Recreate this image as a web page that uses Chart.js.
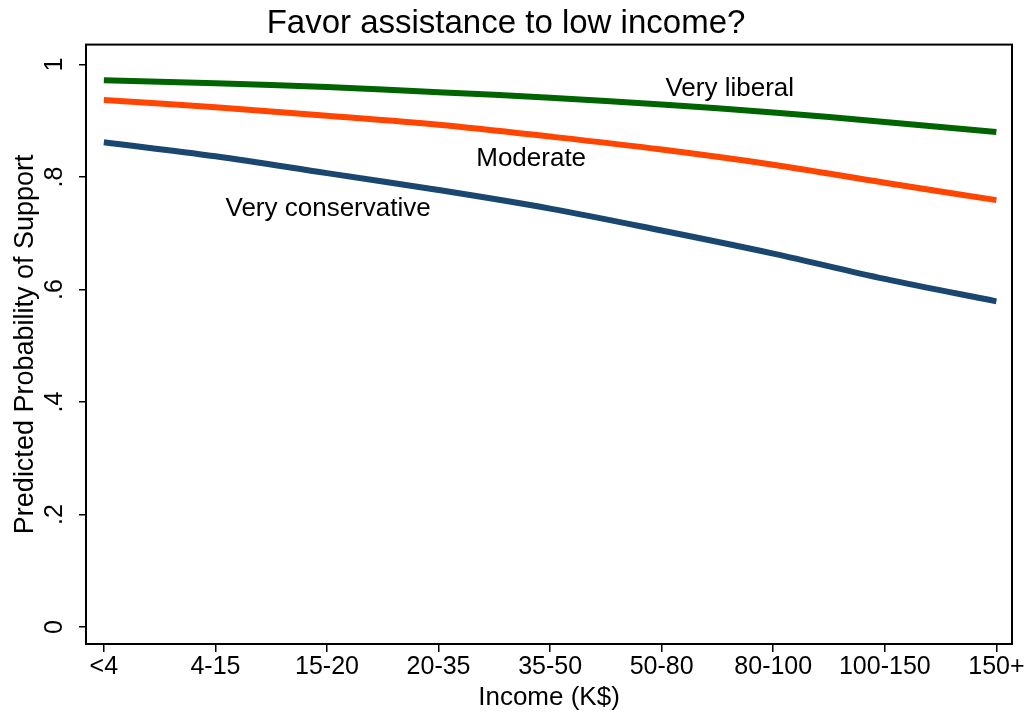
<!DOCTYPE html>
<html>
<head>
<meta charset="utf-8">
<script src="https://cdn.jsdelivr.net/npm/chart.js@4"></script>
<style>
  html, body { margin: 0; padding: 0; background: #fff; }
  #wrap { width: 1029px; height: 714px; }
</style>
</head>
<body>
<div id="wrap"><canvas id="chart"></canvas></div>
<script>
const incomeCats = ["<4", "4-15", "15-20", "20-35", "35-50", "50-80", "80-100", "100-150", "150+"];
const veryLiberal = [0.972, 0.967, 0.960, 0.951, 0.941, 0.929, 0.915, 0.898, 0.880];
const moderate = [0.937, 0.924, 0.909, 0.893, 0.872, 0.849, 0.822, 0.790, 0.759];
const veryConservative = [0.862, 0.837, 0.807, 0.777, 0.744, 0.705, 0.664, 0.619, 0.579];
const yTicks = [0, 0.2, 0.4, 0.6, 0.8, 1];
const yTickLabels = ["0", ".2", ".4", ".6", ".8", "1"];

const FONT = "Liberation Sans, Arial, sans-serif";

function toPoints(vals) {
  return vals.map((v, i) => ({ x: i, y: v }));
}

// text labels next to the lines, placed in data units
const lineLabels = [
  { text: "Very liberal", x: 5.61, y: 0.957 },
  { text: "Moderate", x: 3.83, y: 0.833 },
  { text: "Very conservative", x: 2.01, y: 0.744 }
];

const extras = {
  id: "extras",
  afterDraw(chart) {
    const c = chart.ctx;
    const a = chart.chartArea;
    const xs = chart.scales.x, ys = chart.scales.y;
    c.save();
    // frame
    c.strokeStyle = "#000";
    c.lineWidth = 2;
    c.strokeRect(a.left, a.top, a.right - a.left, a.bottom - a.top);
    // rotated y tick labels (stata style)
    c.fillStyle = "#000";
    c.font = "25px " + FONT;
    c.textAlign = "center";
    c.textBaseline = "middle";
    yTicks.forEach((v, i) => {
      const py = ys.getPixelForValue(v);
      c.save();
      c.translate(a.left - 31, py);
      c.rotate(-Math.PI / 2);
      c.fillText(yTickLabels[i], 0, 0);
      c.restore();
    });
    // line labels
    c.font = "26px " + FONT;
    lineLabels.forEach(l => {
      c.fillText(l.text, xs.getPixelForValue(l.x), ys.getPixelForValue(l.y));
    });
    c.restore();
  }
};

const lineStyle = { borderWidth: 6, pointRadius: 0, tension: 0.35, borderCapStyle: "butt", fill: false };

new Chart(document.getElementById("chart"), {
  type: "line",
  data: {
    datasets: [
      { label: "Very liberal", data: toPoints(veryLiberal), borderColor: "#006400", ...lineStyle },
      { label: "Moderate", data: toPoints(moderate), borderColor: "#ff4500", ...lineStyle },
      { label: "Very conservative", data: toPoints(veryConservative), borderColor: "#1a476f", ...lineStyle }
    ]
  },
  options: {
    responsive: true,
    maintainAspectRatio: false,
    animation: false,
    layout: { padding: { right: 17 } },
    plugins: {
      legend: { display: false },
      tooltip: { enabled: false },
      title: {
        display: true,
        text: "Favor assistance to low income?",
        color: "#000",
        font: { family: FONT, size: 33, weight: "normal", lineHeight: 1.2 },
        padding: { top: 4, bottom: 1 }
      }
    },
    scales: {
      x: {
        type: "linear",
        min: -0.16,
        max: 8.14,
        afterBuildTicks: s => { s.ticks = incomeCats.map((c, i) => ({ value: i })); },
        afterFit: s => { s.height = 70; },
        ticks: {
          color: "#000",
          font: { family: FONT, size: 25 },
          padding: 0,
          maxRotation: 0,
          autoSkip: false,
          callback: v => incomeCats[v]
        },
        grid: { drawOnChartArea: false, tickLength: 8, color: "#000", lineWidth: 1.5 },
        border: { display: false },
        title: {
          display: true,
          text: "Income (K$)",
          color: "#000",
          font: { family: FONT, size: 26, lineHeight: 1.2 },
          padding: { top: 0, bottom: 1 }
        }
      },
      y: {
        min: -0.03,
        max: 1.0355,
        afterBuildTicks: s => { s.ticks = yTicks.map(v => ({ value: v })); },
        afterFit: s => { s.width = 86; },
        ticks: { display: false },
        grid: { drawOnChartArea: false, tickLength: 7, color: "#000", lineWidth: 1.5 },
        border: { display: false },
        title: {
          display: true,
          text: "Predicted Probability of Support",
          color: "#000",
          font: { family: FONT, size: 27, lineHeight: 1.2 },
          padding: { top: 9, bottom: 0 }
        }
      }
    }
  },
  plugins: [extras]
});
</script>
</body>
</html>
